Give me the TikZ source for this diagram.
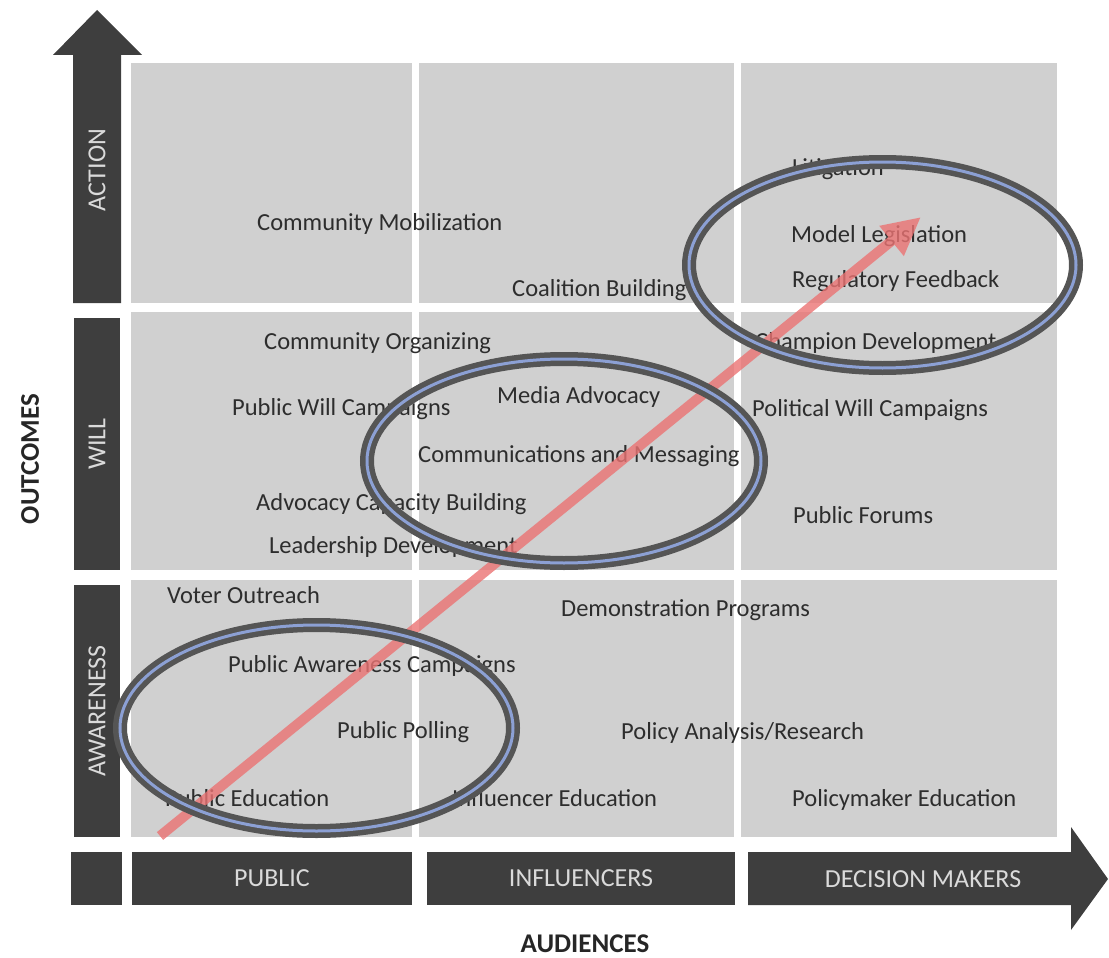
\documentclass[tikz,border=0pt]{standalone}
\usepackage{fontspec}
\setmainfont{Carlito}
\usetikzlibrary{arrows.meta, shapes.geometric}

\definecolor{cellgray}{RGB}{208,208,208}
\definecolor{bardark}{RGB}{62,62,62}
\definecolor{barlight}{RGB}{218,218,218}
\definecolor{itemtxt}{RGB}{45,45,45}
\definecolor{ringgray}{RGB}{85,85,85}
\definecolor{ringblue}{RGB}{140,160,212}
\definecolor{trendred}{RGB}{235,115,115}

\begin{document}
\begin{tikzpicture}[x=1pt, y=-1pt,
      cell/.style={rectangle, fill=cellgray, inner sep=0, outer sep=0},
      bar/.style={rectangle, fill=bardark, inner sep=0},
      barlbl/.style={text=barlight, font=\fontsize{26}{30}\selectfont, inner sep=0},
      item/.style={text=itemtxt, font=\fontsize{24.5}{29}\selectfont, anchor=base west, inner sep=0},
      axistitle/.style={text=black!85, font=\bfseries\fontsize{27}{32}\selectfont, inner sep=0},
      trend/.style={draw=trendred, line width=10pt, -{Triangle[length=38pt, width=36pt]}},
      ring/.style={ellipse, draw=ringgray, line width=5.5pt, double=ringblue, double distance=3pt, inner sep=0}]

      \useasboundingbox (0,0) rectangle (1109,958);

      % Grid cells
      \foreach \cx/\w [count=\i] in {271.5/281, 576.5/315, 899/316} {
        \foreach \cy/\h [count=\j] in {183/240, 441/258, 708.5/257} {
          \node[cell, minimum width=\w pt, minimum height=\h pt] (cell-\j-\i) at (\cx,\cy) {};
        }
      }

      % Outcomes axis
      \fill[bardark] (73,303) -- (73,55) -- (53,55) -- (97,10) -- (142,55) -- (121,55) -- (121,303) -- cycle;
      \node[barlbl, rotate=90] (action) at (97,170) {ACTION};
      \node[bar, minimum width=46pt, minimum height=252pt] (willbar) at (97,444) {};
      \node[barlbl, rotate=90] (will) at (willbar) {WILL};
      \node[bar, minimum width=46pt, minimum height=252pt] (awarebar) at (97,711) {};
      \node[barlbl, rotate=90] (aware) at (awarebar) {AWARENESS};

      % Audiences axis
      \node[bar, minimum width=51pt, minimum height=53pt] (corner) at (96.5,878.5) {};
      \node[bar, minimum width=280pt, minimum height=53pt] (public) at (272,878.5) {};
      \node[barlbl] at (public) {PUBLIC};
      \node[bar, minimum width=308pt, minimum height=53pt] (influencers) at (581,878.5) {};
      \node[barlbl] at (influencers) {INFLUENCERS};
      \fill[bardark] (748,852) -- (1071,852) -- (1071,827) -- (1108,879) -- (1071,930) -- (1071,905) -- (748,905) -- cycle;
      \node[barlbl] (decision) at (923,879) {DECISION MAKERS};

      % Axis titles
      \node[axistitle, rotate=90] (outcomes) at (30,459) {OUTCOMES};
      \node[axistitle] (audiences) at (585,944) {AUDIENCES};

      % Action row
      \node[item] (mobilization) at (257,230) {Community Mobilization};
      \node[item] (coalition) at (512,296) {Coalition Building};
      \node[item] (litigation) at (792,175) {Litigation};
      \node[item] (modelleg) at (791,242) {Model Legislation};
      \node[item] (regfeed) at (792,287) {Regulatory Feedback};

      % Will row
      \node[item] (organizing) at (264,349) {Community Organizing};
      \node[item] (champion) at (755,349) {Champion Development};
      \node[item] (publicwill) at (232,415) {Public Will Campaigns};
      \node[item] (media) at (497,403) {Media Advocacy};
      \node[item] (politicalwill) at (752,416) {Political Will Campaigns};
      \node[item] (comms) at (418,462) {Communications and Messaging};
      \node[item] (capacity) at (256,510) {Advocacy Capacity Building};
      \node[item] (forums) at (793,523) {Public Forums};
      \node[item] (leadership) at (269,553) {Leadership Development};

      % Awareness row
      \node[item] (voter) at (167,603) {Voter Outreach};
      \node[item] (demo) at (561,616) {Demonstration Programs};
      \node[item] (pubaware) at (228,672) {Public Awareness Campaigns};
      \node[item] (polling) at (337,738) {Public Polling};
      \node[item] (analysis) at (621,739) {Policy Analysis/Research};
      \node[item] (pubedu) at (165,806) {Public Education};
      \node[item] (infedu) at (452,806) {Influencer Education};
      \node[item] (poledu) at (792,806) {Policymaker Education};

      % Trend arrow
      \coordinate (start) at (160,836);
      \coordinate (tip) at (921,217);
      \begin{scope}[transparency group, opacity=0.8]
        \draw[trend] (start) -- (tip);
      \end{scope}

      % Rings
      \node[ring, minimum width=393pt, minimum height=206pt] (ring-low) at (316.5,728) {};
      \node[ring, minimum width=394pt, minimum height=204pt] (ring-mid) at (564,461) {};
      \node[ring, minimum width=387pt, minimum height=206pt] (ring-top) at (882.5,265) {};
    \end{tikzpicture}
\end{document}
